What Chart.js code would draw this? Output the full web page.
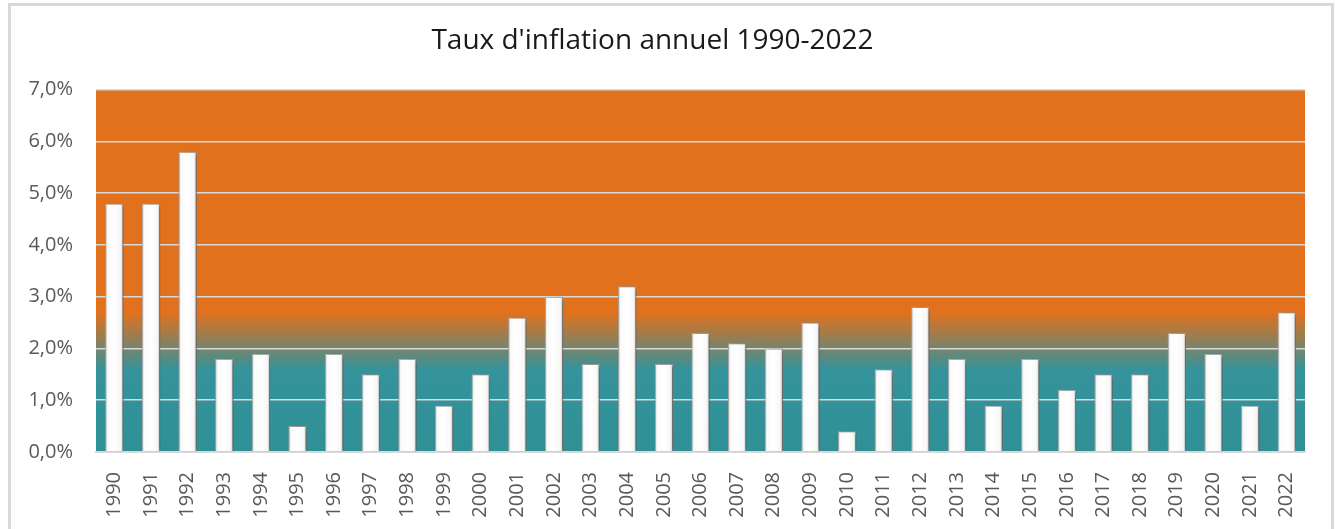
<!DOCTYPE html>
<html>
<head>
<meta charset="utf-8">
<script src="https://cdn.jsdelivr.net/npm/chart.js@4"></script>
<style>
    html, body { margin: 0; padding: 0; background: #ffffff; }
    #wrap { width: 1338px; height: 529px; position: relative; }
</style>
</head>
<body>
<div id="wrap"><canvas id="inflation_graph"></canvas></div>
<script>
const years = ['1990', '1991', '1992', '1993', '1994', '1995', '1996', '1997', '1998', '1999',
    '2000', '2001', '2002', '2003', '2004', '2005', '2006', '2007', '2008', '2009',
    '2010', '2011', '2012', '2013', '2014', '2015', '2016', '2017', '2018', '2019',
    '2020', '2021', '2022'];
const inflation = [4.8, 4.8, 5.8, 1.8, 1.9, 0.5, 1.9, 1.5, 1.8, 0.9,
    1.5, 2.6, 3.0, 1.7, 3.2, 1.7, 2.3, 2.1, 2.0, 2.5,
    0.4, 1.6, 2.8, 1.8, 0.9, 1.8, 1.2, 1.5, 1.5, 2.3,
    1.9, 0.9, 2.7];
const yTicks = [0, 1, 2, 3, 4, 5, 6, 7];

const FONT = "'Open Sans', 'Noto Sans', sans-serif";

// orange above, teal below, blended around 2 %
const plotBackground = {
    id: 'plotBackground',
    beforeDraw(chart) {
        const { ctx, chartArea, scales } = chart;
        const y = scales.y;
        const g = ctx.createLinearGradient(0, chartArea.top, 0, chartArea.bottom);
        const stop = v => (y.getPixelForValue(v) - chartArea.top) / chartArea.height;
        g.addColorStop(0, '#e2711d');
        g.addColorStop(stop(2.7), '#e2711d');
        g.addColorStop(stop(2.15), '#8e7f5a');
        g.addColorStop(stop(1.6), '#35939b');
        g.addColorStop(1, '#2f9096');
        ctx.save();
        ctx.fillStyle = g;
        ctx.fillRect(chartArea.left, chartArea.top, chartArea.width, chartArea.height);
        ctx.restore();
    },
    beforeDatasetsDraw(chart) {
        const ctx = chart.ctx;
        ctx.save();
        ctx.shadowColor = 'rgba(0,0,0,0.45)';
        ctx.shadowBlur = 5;
        ctx.shadowOffsetX = 3;
        ctx.shadowOffsetY = 1;
    },
    afterDatasetsDraw(chart) {
        chart.ctx.restore();
    },
    afterDraw(chart) {
        const ctx = chart.ctx;
        ctx.save();
        ctx.strokeStyle = '#d9d9d9';
        ctx.lineWidth = 3;
        ctx.strokeRect(9.5, 4.5, 1323, 600);
        ctx.restore();
    }
};

function barFill(c) {
    const chart = c.chart;
    const { ctx, chartArea, scales } = chart;
    if (!chartArea) return '#ffffff';
    const x = scales.x.getPixelForValue(c.dataIndex);
    const w = chartArea.width / years.length * 0.5;
    const g = ctx.createLinearGradient(x - w / 2, 0, x + w / 2, 0);
    g.addColorStop(0, '#cfcfcf');
    g.addColorStop(0.15, '#fbfbfb');
    g.addColorStop(0.5, '#ffffff');
    g.addColorStop(0.85, '#f7f7f7');
    g.addColorStop(1, '#bdbdbd');
    return g;
}

const ctx = document.getElementById('inflation_graph');
const chart = new Chart(ctx, {
    type: 'bar',
    data: {
        labels: years,
        datasets: [
            {
                label: "Taux d'inflation",
                data: inflation,
                backgroundColor: barFill,
                borderColor: '#a6a6a6',
                borderWidth: 1,
                categoryPercentage: 1,
                barPercentage: 0.5,
            }
        ]
    },
    options: {
        responsive: true,
        maintainAspectRatio: false,
        animation: false,
        layout: {
            padding: { left: 0, right: 33, top: 0, bottom: 0 }
        },
        plugins: {
            legend: { display: false },
            tooltip: { enabled: false },
            title: {
                display: true,
                text: "Taux d'inflation annuel 1990-2022",
                color: '#1a1a1a',
                font: { family: FONT, size: 28, weight: 'normal' },
                padding: { top: 24, bottom: 32 }
            }
        },
        scales: {
            x: {
                grid: { display: false },
                border: { display: true, color: '#d9d9d9', width: 2 },
                ticks: {
                    color: '#595959',
                    font: { family: FONT, size: 20 },
                    minRotation: 90,
                    maxRotation: 90,
                    padding: 12
                },
                afterFit(scale) { scale.height = 77; }
            },
            y: {
                min: 0,
                max: 7,
                afterBuildTicks(scale) { scale.ticks = yTicks.map(v => ({ value: v })); },
                grid: { color: '#d9d9d9', lineWidth: 1.5, drawTicks: false },
                border: { display: false },
                ticks: {
                    color: '#595959',
                    font: { family: FONT, size: 20 },
                    padding: 23,
                    callback: v => v.toFixed(1).replace('.', ',') + '%'
                },
                afterFit(scale) { scale.width = 96; }
            }
        }
    },
    plugins: [plotBackground]
});
</script>
</body>
</html>
